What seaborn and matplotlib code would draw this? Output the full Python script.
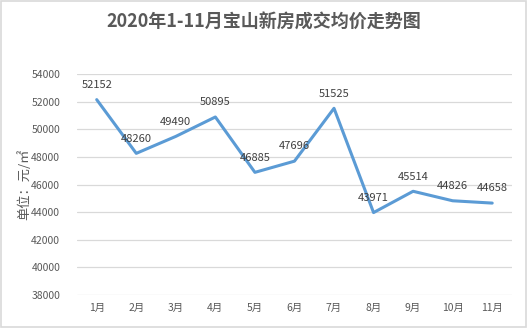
import matplotlib
matplotlib.use("Agg")
import matplotlib.pyplot as plt
import seaborn as sns
import pandas as pd
from matplotlib.patches import Rectangle

months = ["1月", "2月", "3月", "4月", "5月", "6月", "7月", "8月", "9月", "10月", "11月"]
prices = [52152, 48260, 49490, 50895, 46885, 47696, 51525, 43971, 45514, 44826, 44658]
y_ticks = [38000, 40000, 42000, 44000, 46000, 48000, 50000, 52000, 54000]

sns.set_theme(style="white")
plt.rcParams["font.family"] = ["Noto Sans CJK SC", "DejaVu Sans"]

df = pd.DataFrame({"month": months, "price": prices})
df["x"] = range(len(months))

fig = plt.figure(figsize=(5.27, 3.28), dpi=100)
ax = fig.add_axes([0.146, 0.1006, 0.8255, 0.6734])

sns.lineplot(data=df, x="x", y="price", ax=ax, color="#5B9BD5", linewidth=2.2)

ax.set_xlim(-0.5, len(months) - 0.5)
ax.set_ylim(38000, 54000)
ax.set_yticks(y_ticks)
ax.set_yticklabels([str(v) for v in y_ticks])
ax.set_xticks(df["x"])
ax.set_xticklabels(months)
ax.tick_params(axis="both", length=0, labelsize=7.5, colors="#595959")
ax.tick_params(axis="y", pad=12)
ax.tick_params(axis="x", pad=6)
ax.grid(axis="y", color="#D9D9D9", linewidth=0.9)
ax.set_axisbelow(True)
for s in ax.spines.values():
    s.set_visible(False)
ax.set_xlabel("")
ax.set_ylabel("单位：元/㎡", fontsize=9.5, color="#595959", labelpad=2)
ax.yaxis.set_label_coords(-0.105, 0.5)

for xi, v in zip(df["x"], prices):
    ax.annotate(str(v), (xi, v), xytext=(0, 7), textcoords="offset points",
                ha="center", va="bottom", fontsize=8, color="#404040")

fig.text(0.5, 0.932, "2020年1-11月宝山新房成交均价走势图", ha="center", va="center",
         fontsize=13, fontweight="bold", color="#595959")

fig.patches.append(Rectangle((0.001, 0.002), 0.997, 0.995, transform=fig.transFigure,
                             fill=False, edgecolor="#D9D9D9", linewidth=1.2))

fig.savefig("out.png", dpi=100)
